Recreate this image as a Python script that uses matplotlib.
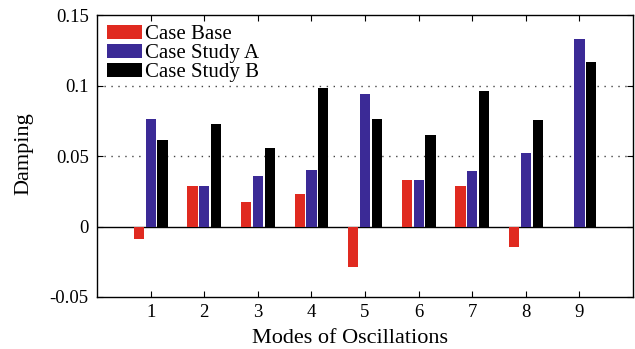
import matplotlib
matplotlib.use("Agg")
import matplotlib.pyplot as plt
import numpy as np

modes = [1, 2, 3, 4, 5, 6, 7, 8, 9]
case_base = [-0.009, 0.0284, 0.0175, 0.0234, -0.0286, 0.0331, 0.029, -0.0147, 0.0]
case_a = [0.0764, 0.0284, 0.0355, 0.0404, 0.0941, 0.0333, 0.0395, 0.0518, 0.1329]
case_b = [0.0617, 0.0728, 0.0558, 0.098, 0.0761, 0.065, 0.0962, 0.0757, 0.1168]
series_labels = ["Case Base", "Case Study A", "Case Study B"]
yticks = [-0.05, 0, 0.05, 0.1, 0.15]
ytick_labels = ["-0.05", "0", "0.05", "0.1", "0.15"]

plt.rcParams['font.family'] = ['Liberation Serif', 'DejaVu Serif']

fig = plt.figure(figsize=(6.35, 3.49), dpi=100)
ax = fig.add_axes([0.1528, 0.149, 0.8441, 0.808])

x = np.array(modes, dtype=float)
off = 0.22
w = 0.19
colors = ["#e02a20", "#3b2a96", "#000000"]
for i, (vals, lab, c) in enumerate(zip([case_base, case_a, case_b], series_labels, colors)):
    ax.bar(x + (i - 1) * off, vals, width=w, color=c, label=lab, zorder=3)

ax.set_xlim(0, 10)
ax.set_ylim(-0.05, 0.15)
ax.set_xticks(modes)
ax.set_xticklabels([str(m) for m in modes])
ax.set_yticks(yticks)
ax.set_yticklabels(ytick_labels)
for yv in [0.05, 0.1]:
    ax.axhline(yv, color='#444444', linestyle=(0, (1, 4)), linewidth=1.0, zorder=1)
ax.axhline(0, color='black', linewidth=1.0, zorder=2)

ax.tick_params(direction='in', top=True, right=True, length=4, labelsize=13.5, width=0.8)
ax.tick_params(axis='y', pad=6)
ax.tick_params(axis='x', pad=5)
for s in ax.spines.values():
    s.set_linewidth(1.0)

ax.set_xlabel("Modes of Oscillations", fontsize=16)
ax.set_ylabel("Damping", fontsize=16)
ax.xaxis.set_label_coords(0.472, -0.115)
ax.yaxis.set_label_coords(-0.118, 0.51)

leg = ax.legend(loc='upper left', frameon=False, fontsize=15, handlelength=1.65,
                handleheight=0.6, handletextpad=0.15, labelspacing=0.0,
                borderaxespad=0.3, borderpad=0.2)

fig.savefig("out.png", dpi=100)
